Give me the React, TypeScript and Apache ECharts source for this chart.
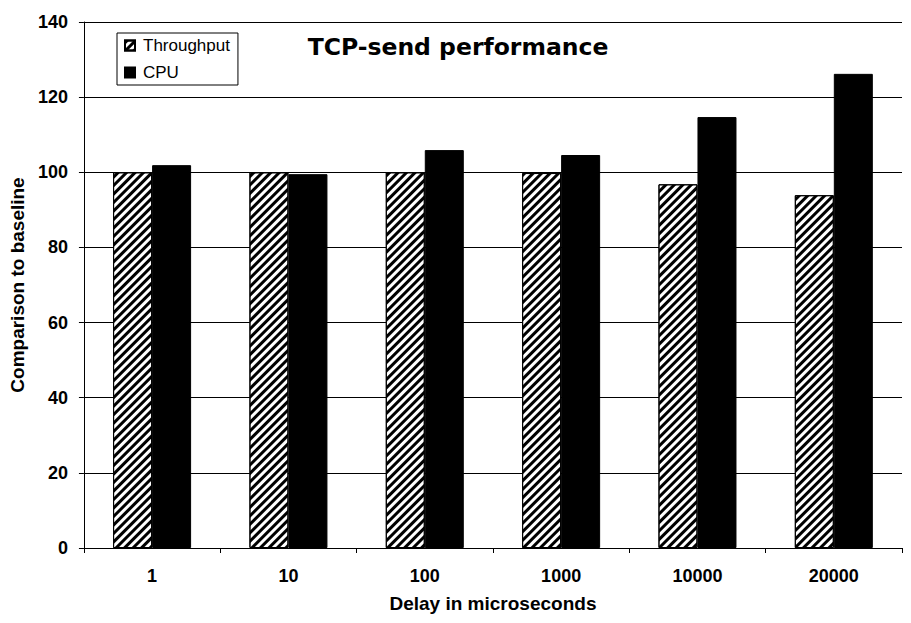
import React, { useEffect, useRef } from "react";
import * as echarts from "echarts";

const categories = ["1", "10", "100", "1000", "10000", "20000"];
const throughput = [100, 100, 100, 99.8, 96.8, 93.9];
const cpu = [101.9, 99.5, 105.9, 104.6, 114.7, 126.2];
const yTicks = { min: 0, max: 140, interval: 20 };

export default function App() {
  const ref = useRef<HTMLDivElement>(null);
  useEffect(() => {
    if (!ref.current) return;
    const chart = echarts.init(ref.current, null, { renderer: "svg" });
    const labelFont = "'Liberation Sans', Arial, sans-serif";
    chart.setOption({
      animation: false,
      backgroundColor: "#ffffff",
      title: {
        text: "TCP-send performance",
        left: 458,
        top: 35,
        padding: 0,
        textAlign: "center",
        textStyle: {
          fontFamily: "'DejaVu Sans', sans-serif",
          fontWeight: "bold",
          fontSize: 23.5,
          color: "#000",
        },
      },
      legend: {
        orient: "vertical",
        left: 117,
        top: 33,
        padding: [4, 8, 4, 7],
        itemGap: 10,
        itemWidth: 10,
        itemHeight: 10,
        borderColor: "#000",
        borderWidth: 1,
        borderRadius: 0,
        backgroundColor: "#fff",
        textStyle: {
          fontFamily: labelFont,
          fontSize: 17,
          color: "#000",
          padding: [0, 0, 0, 3],
        },
        data: [
          { name: "Throughput", icon: "rect" },
          { name: "CPU", icon: "rect" },
        ],
      },
      grid: { left: 81, right: 9, top: 22, bottom: 75, containLabel: false },
      xAxis: {
        type: "category",
        data: categories,
        name: "Delay in microseconds",
        nameLocation: "middle",
        nameGap: 46,
        nameTextStyle: {
          fontFamily: labelFont,
          fontWeight: "bold",
          fontSize: 19,
          color: "#000",
        },
        axisLine: { show: true, lineStyle: { color: "#000", width: 1 } },
        axisTick: { show: true, length: 5, inside: false, lineStyle: { color: "#000" } },
        axisLabel: {
          margin: 19,
          fontFamily: labelFont,
          fontWeight: "bold",
          fontSize: 18,
          color: "#000",
        },
      },
      yAxis: {
        type: "value",
        min: yTicks.min,
        max: yTicks.max,
        interval: yTicks.interval,
        name: "Comparison to baseline",
        nameLocation: "middle",
        nameGap: 49,
        nameRotate: 90,
        nameTextStyle: {
          fontFamily: labelFont,
          fontWeight: "bold",
          fontSize: 19,
          color: "#000",
        },
        axisLine: { show: true, lineStyle: { color: "#000", width: 1 } },
        axisTick: { show: true, length: 5, inside: false, lineStyle: { color: "#000" } },
        axisLabel: {
          margin: 16,
          fontFamily: labelFont,
          fontWeight: "bold",
          fontSize: 18,
          color: "#000",
        },
        splitLine: { show: true, lineStyle: { color: "#000", width: 1 } },
      },
      series: [
        {
          name: "Throughput",
          type: "bar",
          data: throughput,
          barWidth: 39,
          barGap: "0%",
          itemStyle: {
            color: "#fff",
            borderColor: "#000",
            borderWidth: 1,
            decal: {
              symbol: "rect",
              symbolSize: 1,
              color: "#000",
              dashArrayX: [1, 0],
              dashArrayY: [2.5, 2.5],
              rotation: -Math.PI / 4,
            },
          },
        },
        {
          name: "CPU",
          type: "bar",
          data: cpu,
          barWidth: 39,
          barGap: "0%",
          itemStyle: { color: "#000", borderColor: "#000", borderWidth: 1 },
        },
      ],
    });
    return () => chart.dispose();
  }, []);
  return (
    <div
      ref={ref}
      style={{ position: "fixed", left: 0, top: 0, width: 911, height: 623 }}
    />
  );
}
